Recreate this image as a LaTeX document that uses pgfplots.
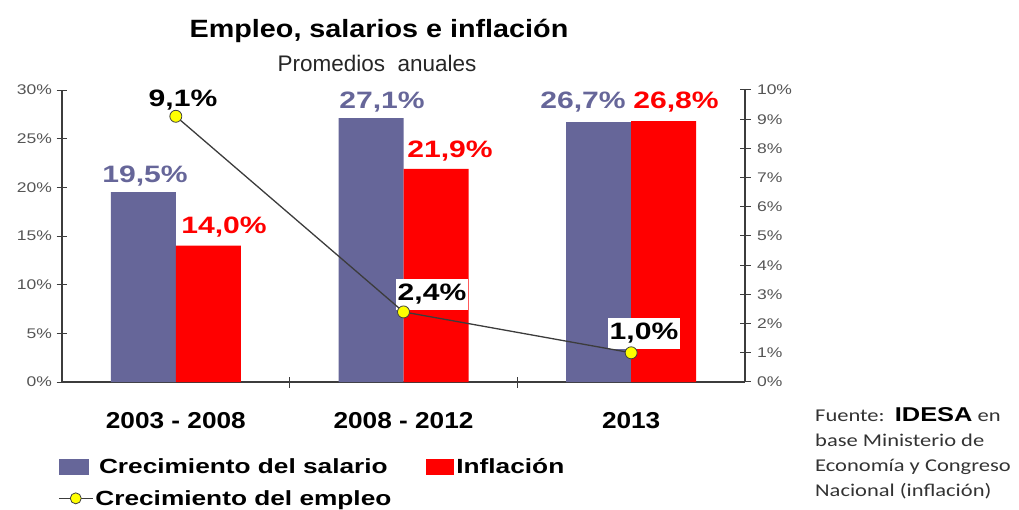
\documentclass[border=0pt]{standalone}
\usepackage{pgfplots}
\pgfplotsset{compat=1.18}
\usepackage{fontspec}
\setmainfont{Liberation Sans}
\newfontfamily\titlef[FakeStretch=1.15]{Liberation Sans}
\newfontfamily\labf[FakeStretch=1.27]{Liberation Sans}
\newfontfamily\xf[FakeStretch=1.14]{Liberation Sans}
\newfontfamily\legf[FakeStretch=1.28]{Liberation Sans}
\newfontfamily\tickf[FakeStretch=1.25]{Liberation Sans}
\newfontfamily\notef[FakeStretch=1.25]{Carlito}
\definecolor{sal}{RGB}{102,102,153}
\definecolor{inf}{RGB}{255,0,0}
\definecolor{tickgray}{RGB}{85,85,85}
\definecolor{axgray}{RGB}{60,60,60}
\definecolor{mk}{RGB}{255,255,0}
\begin{document}
\begin{tikzpicture}
\path[use as bounding box] (-62bp,-128bp) rectangle (957bp,382bp);
\begin{axis}[
  at={(0bp,0bp)}, anchor=south west,
  width=683bp, height=292bp, scale only axis,
  xmin=-0.5, xmax=2.5, ymin=0, ymax=30,
  ybar=0pt, bar width=65bp,
  axis x line*=bottom, axis y line*=left,
  axis line style={draw=axgray, line width=1.1bp, -},
  tick align=center,
  xtick={0.5,1.5}, xticklabels={,},
  major tick length=11bp,
  tick style={draw=axgray, line width=1bp},
  extra x ticks={0,1,2},
  extra x tick labels={2003 - 2008, 2008 - 2012, 2013},
  extra x tick style={major tick length=0pt,
     xticklabel style={anchor=base, yshift=-46bp, font=\xf\bfseries\fontsize{23bp}{27bp}\selectfont, text=black}},
  ytick={0,5,10,15,20,25,30},
  yticklabels={0\%,5\%,10\%,15\%,20\%,25\%,30\%},
  yticklabel style={font=\tickf\fontsize{14bp}{16bp}\selectfont, text=tickgray, xshift=-1bp},
  legend columns=2,
  legend style={at={(axis description cs:-0.006,-0.255)}, anchor=north west,
    draw=none, fill=none, font=\legf\bfseries\fontsize{20.5bp}{24bp}\selectfont,
    row sep=11bp, inner sep=0pt,
    /tikz/every even column/.append style={column sep=33bp}},
]
\addplot[fill=sal, draw=none, legend image code/.code={\fill[sal] (0bp,-8bp) rectangle (30bp,8bp);}]
  coordinates {(0,19.5) (1,27.1) (2,26.7)};
\addplot[fill=inf, draw=none, legend image code/.code={\fill[inf] (0bp,-8bp) rectangle (28bp,8bp);}]
  coordinates {(0,14.0) (1,21.9) (2,26.8)};
\addlegendimage{draw=axgray, line width=1.3bp, mark=*, mark size=5.5bp,
  mark options={fill=mk, draw=black!75, line width=0.8bp},
  legend image code/.code={\draw[axgray, line width=1.3bp] (0bp,0bp) -- (34bp,0bp);
     \draw[fill=mk, draw=black!75, line width=0.8bp] (17bp,0bp) circle (5.5bp);}}
\legend{Crecimiento del salario, Inflación, Crecimiento del empleo}
\end{axis}
% data labels
\begin{scope}[every node/.style={anchor=base, inner sep=0pt, font=\labf\bfseries\fontsize{23.7bp}{28bp}\selectfont}]
\node[text=sal] at (83bp,199bp) {19,5\%};
\node[text=sal] at (320bp,273bp) {27,1\%};
\node[text=sal] at (521bp,273bp) {26,7\%};
\node[text=inf] at (162bp,148bp) {14,0\%};
\node[text=inf] at (388bp,224bp) {21,9\%};
\node[text=inf] at (614bp,273bp) {26,8\%};
\node[text=black, fill=white, inner xsep=1.5bp, inner ysep=5bp] at (121bp,275bp) {9,1\%};
\node[text=black, fill=white, inner xsep=1.5bp, inner ysep=5bp] at (370bp,81bp) {2,4\%};
\node[text=black, fill=white, inner xsep=1.5bp, inner ysep=5bp] at (582bp,42bp) {1,0\%};
\end{scope}
\begin{axis}[
  at={(0bp,0bp)}, anchor=south west,
  width=683bp, height=292bp, scale only axis,
  xmin=-0.5, xmax=2.5, ymin=0, ymax=10,
  axis x line=none, axis y line*=right,
  axis line style={draw=axgray, line width=1.1bp, -},
  tick align=center, major tick length=11bp,
  tick style={draw=axgray, line width=1bp},
  ytick={0,1,2,3,4,5,6,7,8,9,10},
  yticklabels={0\%,1\%,2\%,3\%,4\%,5\%,6\%,7\%,8\%,9\%,10\%},
  yticklabel style={font=\tickf\fontsize{14bp}{16bp}\selectfont, text=tickgray, xshift=3bp},
]
\addplot[draw=axgray, line width=1.3bp, mark=*, mark size=6bp,
  mark options={fill=mk, draw=black!75, line width=0.8bp}]
  coordinates {(0,9.1) (1,2.4) (2,1.0)};
\end{axis}
% title
\node[anchor=base, inner sep=0pt, font=\titlef\bfseries\fontsize{25bp}{30bp}\selectfont] at (317bp,344bp) {Empleo, salarios e inflación};
\node[anchor=base, inner sep=0pt, font=\fontsize{22.5bp}{27bp}\selectfont, text=black!85] at (315bp,310bp) {Promedios\ \ anuales};
% source note
\node[anchor=base west, inner sep=0pt, align=left, text=black!80,
  font=\notef\fontsize{18bp}{25bp}\selectfont] at (753bp,-114bp)
  {Fuente:\ \ {\labf\bfseries\fontsize{20bp}{25bp}\selectfont\color{black}IDESA} en\\base Ministerio de\\Economía y Congreso\\Nacional (inflación)};
\end{tikzpicture}
\end{document}
